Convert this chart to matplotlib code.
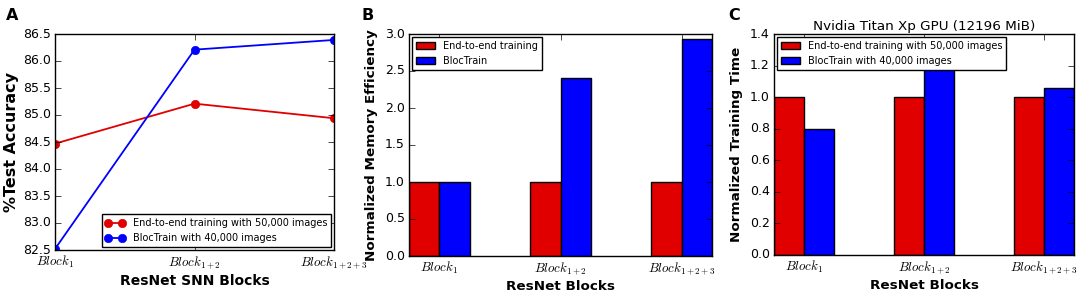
import numpy as np
import matplotlib
matplotlib.use("Agg")
import matplotlib.pyplot as plt

# data
blocks = [r"$Block_1$", r"$Block_{1+2}$", r"$Block_{1+2+3}$"]

acc_e2e = [84.47, 85.21, 84.94]
acc_bloc = [82.52, 86.21, 86.39]

mem_e2e = [1.0, 1.0, 1.0]
mem_bloc = [1.0, 2.41, 2.93]

time_e2e = [1.0, 1.0, 1.0]
time_bloc = [0.80, 1.18, 1.06]

plt.style.use("classic")
plt.rcParams["figure.facecolor"] = "white"
plt.rcParams["savefig.facecolor"] = "white"
plt.rcParams["font.family"] = "DejaVu Sans"
plt.rcParams["mathtext.fontset"] = "cm"

W, H = 1084, 295
fig = plt.figure(figsize=(W / 100, H / 100), dpi=100)


def box(x0, y0, x1, y1):
    # pixel box -> figure fraction
    return [x0 / W, 1 - y1 / H, (x1 - x0) / W, (y1 - y0) / H]


tick_fs = 9
xt_fs = 9.3
lab_fs = 9.7
leg_fs = 7
red = "#e00000"
x = np.arange(len(blocks))

# Panel A: line plot
ax1 = fig.add_axes(box(55, 34, 334, 250))
ax1.plot(x, acc_e2e, "-o", color=red, lw=1.3, ms=6, mec=red,
         label="End-to-end training with 50,000 images")
ax1.plot(x, acc_bloc, "b-o", lw=1.3, ms=6, mec="b",
         label="BlocTrain with 40,000 images")
ax1.set_xlim(0, 2)
ax1.set_ylim(82.5, 86.5)
ax1.set_xticks(x)
ax1.set_xticklabels(blocks)
ax1.set_ylabel("%Test Accuracy", fontsize=11.5, fontweight="bold", labelpad=3)
ax1.set_xlabel("ResNet SNN Blocks", fontsize=10, fontweight="bold", labelpad=2)
ax1.legend(loc="lower right", fontsize=leg_fs, numpoints=2, borderaxespad=0.3)

# Panel B: memory efficiency bars
w = 0.25
ax2 = fig.add_axes(box(409, 34, 712, 256))
ax2.bar(x - w, mem_e2e, w, align="edge", color=red, label="End-to-end training")
ax2.bar(x, mem_bloc, w, align="edge", color="b", label="BlocTrain")
ax2.set_xlim(-w, 2 + w)
ax2.set_ylim(0, 3.0)
ax2.set_xticks(x)
ax2.set_xticklabels(blocks)
ax2.set_ylabel("Normalized Memory Efficiency", fontsize=lab_fs, fontweight="bold")
ax2.set_xlabel("ResNet Blocks", fontsize=lab_fs, fontweight="bold", labelpad=2)
ax2.legend(loc="upper left", fontsize=leg_fs, borderaxespad=0.3)

# Panel C: training time bars
ax3 = fig.add_axes(box(774, 34, 1074, 255))
ax3.bar(x - w, time_e2e, w, align="edge", color=red,
        label="End-to-end training with 50,000 images")
ax3.bar(x, time_bloc, w, align="edge", color="b",
        label="BlocTrain with 40,000 images")
ax3.set_xlim(-w, 2 + w)
ax3.set_ylim(0, 1.4)
ax3.set_xticks(x)
ax3.set_xticklabels(blocks)
ax3.set_ylabel("Normalized Training Time", fontsize=lab_fs, fontweight="bold")
ax3.set_xlabel("ResNet Blocks", fontsize=lab_fs, fontweight="bold", labelpad=2)
ax3.set_title("Nvidia Titan Xp GPU (12196 MiB)", fontsize=lab_fs, pad=3)
leg = ax3.legend(loc="upper left", fontsize=leg_fs, borderaxespad=0.3)
leg.set_zorder(5)

for ax in (ax1, ax2, ax3):
    ax.tick_params(labelsize=tick_fs, pad=3)
    for lbl in ax.get_xticklabels():
        lbl.set_fontsize(xt_fs)

for lab, px in (("A", 6), ("B", 362), ("C", 728)):
    fig.text(px / W, 1 - 8 / H, lab, fontsize=11.5, fontweight="bold", va="top", ha="left")

fig.savefig("out.png", dpi=100)
